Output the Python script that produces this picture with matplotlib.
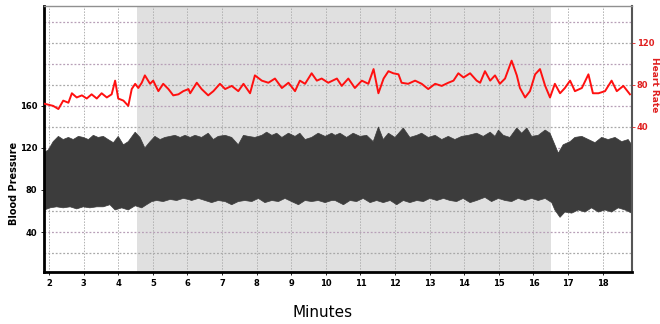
import numpy as np
import matplotlib
matplotlib.use("Agg")
import matplotlib.pyplot as plt

# heart rate trace (minutes, bpm)
hr_min = [1.87, 2.12, 2.27, 2.41, 2.56, 2.66, 2.80, 2.95, 3.09, 3.23, 3.38, 3.52, 3.67, 3.81, 3.91, 4.00,
          4.15, 4.29, 4.39, 4.49, 4.58, 4.68, 4.77, 4.92, 5.01, 5.16, 5.30, 5.45, 5.59, 5.74, 5.88, 6.03,
          6.08, 6.27, 6.41, 6.60, 6.75, 6.94, 7.09, 7.28, 7.47, 7.62, 7.81, 7.95, 8.15, 8.34, 8.53, 8.73,
          8.92, 9.11, 9.25, 9.40, 9.59, 9.74, 9.88, 10.07, 10.32, 10.46, 10.65, 10.84, 11.04, 11.23, 11.38,
          11.52, 11.67, 11.81, 11.95, 12.10, 12.19, 12.38, 12.58, 12.77, 12.96, 13.16, 13.35, 13.54, 13.69,
          13.83, 13.98, 14.17, 14.36, 14.46, 14.60, 14.75, 14.89, 15.03, 15.18, 15.37, 15.52, 15.61, 15.76,
          15.90, 16.05, 16.19, 16.34, 16.48, 16.62, 16.77, 16.91, 17.06, 17.20, 17.40, 17.59, 17.72, 17.88,
          18.07, 18.26, 18.41, 18.60, 18.79]
hr = [62, 60, 57, 65, 63, 72, 68, 70, 67, 71, 67, 72, 68, 71, 84, 67,
      65, 60, 76, 81, 77, 82, 89, 81, 84, 74, 81, 76, 70, 71, 74, 76,
      72, 82, 76, 70, 74, 81, 76, 79, 74, 81, 72, 89, 84, 82, 86, 77,
      82, 74, 84, 81, 91, 84, 86, 82, 86, 79, 86, 77, 84, 81, 95,
      72, 86, 93, 91, 90, 82, 81, 84, 81, 76, 81, 79, 82, 84,
      91, 87, 91, 84, 82, 93, 84, 89, 81, 86, 103, 89, 77, 68,
      74, 90, 95, 79, 68, 81, 72, 77, 84, 74, 77, 90, 72, 72,
      74, 84, 74, 79, 71]

# blood pressure envelope: upper (systolic) edge
bp_top_min = [1.87, 1.98, 2.12, 2.27, 2.41, 2.56, 2.70, 2.85, 2.99, 3.14, 3.28, 3.42, 3.57, 3.71, 3.86, 4.00,
              4.15, 4.29, 4.49, 4.63, 4.77, 4.92, 5.06, 5.21, 5.35, 5.50, 5.64, 5.79, 5.93, 6.08, 6.22, 6.41,
              6.60, 6.75, 6.89, 7.09, 7.28, 7.47, 7.62, 7.76, 7.95, 8.15, 8.29, 8.44, 8.58, 8.73, 8.92, 9.11,
              9.25, 9.40, 9.59, 9.78, 9.98, 10.17, 10.27, 10.41, 10.60, 10.79, 10.99, 11.18, 11.37, 11.52,
              11.66, 11.81, 12.00, 12.24, 12.43, 12.63, 12.77, 12.96, 13.16, 13.35, 13.54, 13.73, 13.93,
              14.12, 14.36, 14.55, 14.75, 14.89, 14.99, 15.13, 15.32, 15.52, 15.66, 15.81, 15.95, 16.14,
              16.34, 16.48, 16.62, 16.72, 16.86, 17.06, 17.20, 17.40, 17.59, 17.78, 17.97, 18.16, 18.36,
              18.55, 18.74, 18.84]
bp_top = [116, 118, 126, 131, 128, 130, 128, 131, 130, 128, 132, 130, 131, 128, 125, 131,
          123, 126, 135, 130, 120, 126, 131, 128, 130, 131, 132, 130, 132, 130, 132, 130,
          134, 128, 131, 132, 130, 123, 132, 131, 130, 132, 135, 132, 134, 130, 134, 131,
          134, 128, 130, 134, 131, 134, 132, 134, 130, 134, 131, 132, 126, 140,
          128, 134, 130, 139, 130, 132, 134, 130, 132, 128, 131, 128, 131,
          132, 134, 131, 135, 131, 137, 132, 130, 139, 134, 139, 131, 132,
          137, 134, 123, 115, 123, 126, 130, 131, 128, 125, 130, 128, 130,
          126, 128, 123]

# blood pressure envelope: lower (diastolic) edge
bp_bot_min = [1.87, 2.03, 2.22, 2.41, 2.61, 2.80, 2.99, 3.18, 3.38, 3.57, 3.76, 3.91, 4.10, 4.29, 4.49, 4.68,
              4.82, 4.97, 5.11, 5.30, 5.50, 5.69, 5.88, 6.03, 6.12, 6.32, 6.51, 6.70, 6.89, 7.09, 7.28, 7.47,
              7.66, 7.86, 8.05, 8.24, 8.44, 8.63, 8.82, 9.01, 9.21, 9.40, 9.59, 9.78, 9.98, 10.17, 10.27,
              10.51, 10.70, 10.89, 11.08, 11.28, 11.47, 11.66, 11.86, 12.05, 12.24, 12.43, 12.63, 12.82,
              13.01, 13.21, 13.40, 13.59, 13.78, 13.97, 14.17, 14.36, 14.60, 14.79, 14.99, 15.18, 15.37,
              15.56, 15.76, 15.95, 16.14, 16.34, 16.53, 16.62, 16.77, 16.91, 17.11, 17.30, 17.49, 17.68,
              17.88, 18.07, 18.26, 18.45, 18.65, 18.84]
bp_bot = [61, 63, 64, 63, 64, 62, 64, 63, 64, 64, 66, 61, 63, 61, 65, 63,
          66, 69, 70, 69, 71, 70, 72, 71, 70, 72, 70, 68, 70, 69, 66, 69,
          70, 69, 72, 68, 70, 69, 72, 69, 66, 70, 69, 70, 68, 70, 70,
          66, 70, 69, 72, 68, 70, 68, 70, 66, 70, 68, 70, 69,
          72, 70, 72, 70, 69, 72, 68, 70, 73, 69, 72, 70, 69,
          72, 70, 72, 70, 72, 68, 61, 54, 59, 58, 61, 59, 63,
          59, 61, 59, 63, 61, 58]

x_ticks = list(range(2, 19))
bp_ticks = [40, 80, 120, 160]
hr_ticks = [40, 80, 120]
shade_from, shade_to = 4.55, 16.5

fig = plt.figure(figsize=(6.6, 3.24), dpi=100)
ax = fig.add_axes([0.0667, 0.1605, 0.8909, 0.821])
ax.set_xlim(1.855, 18.85)
ax.set_ylim(2, 255)

ax.axvspan(shade_from, shade_to, color="#e0e0e0", zorder=0, lw=0)

# grid
for g in range(20, 255, 20):
    c = "#b79fb7" if g % 40 == 0 else "#a8a8a8"
    ax.axhline(g, color=c, ls=(0, (1.5, 1.5)), lw=0.9, zorder=1)
for t in x_ticks:
    ax.axvline(t, color="#b0b0b0", ls=(0, (1.5, 1.5)), lw=0.7, zorder=1)

ax.fill(bp_top_min + bp_bot_min[::-1], bp_top + bp_bot[::-1],
        color="#3c3c3c", lw=0.5, zorder=2)

ax.set_xticks(x_ticks)
ax.set_xticklabels([str(t) for t in x_ticks])
ax.set_yticks(bp_ticks)
ax.tick_params(axis="both", labelsize=6, length=2, width=0.6, pad=3)
for lab in ax.get_xticklabels() + ax.get_yticklabels():
    lab.set_fontweight("bold")

ax.spines["left"].set_linewidth(2)
ax.spines["bottom"].set_linewidth(2)
ax.spines["top"].set_color("#909090")
ax.spines["top"].set_linewidth(1)
ax.spines["right"].set_color("#555555")
ax.spines["right"].set_linewidth(1.5)

ax2 = ax.twinx()
ax2.set_ylim(2 - 100, 255 - 100)
ax2.plot(hr_min, hr, color="#ff1010", lw=1.4, zorder=3)
ax2.set_yticks(hr_ticks)
ax2.tick_params(axis="y", labelsize=6, length=2, width=0.6, colors="#e02020", pad=1.5)
for lab in ax2.get_yticklabels():
    lab.set_fontweight("bold")
for s in ax2.spines.values():
    s.set_visible(False)

fig.text(0.021, 0.435, "Blood Pressure", rotation=90, ha="center", va="center",
         fontsize=7, fontweight="bold")
fig.text(0.991, 0.738, "Heart Rate", rotation=-90, ha="center", va="center",
         fontsize=6.5, fontweight="bold", color="#e02020")
fig.text(0.488, 0.037, "Minutes", ha="center", va="center", fontsize=11)

fig.savefig("out.png", dpi=100)
